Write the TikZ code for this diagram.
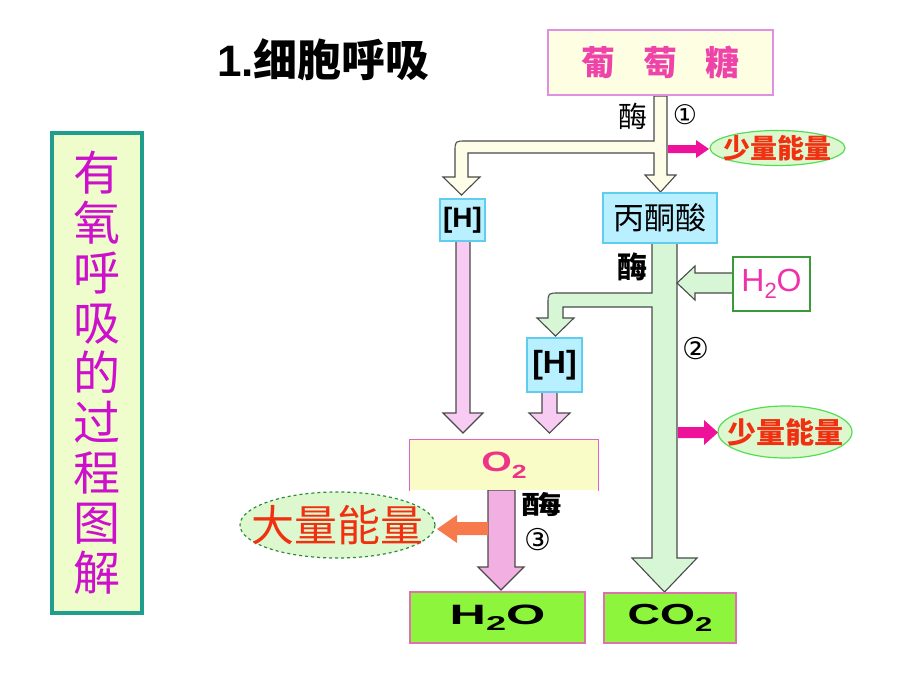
\documentclass[tikz,border=0pt]{standalone}
\usepackage{fontspec}
\setmainfont{Liberation Sans}
\newfontfamily\cjk{Noto Sans CJK SC}
\newfontfamily\symf{DejaVu Sans}
\usetikzlibrary{shapes.geometric}
\definecolor{leftfill}{HTML}{EFFCCB}
\definecolor{leftborder}{HTML}{1F9E8E}
\definecolor{leftText}{HTML}{CC10CC}
\definecolor{gluFill}{HTML}{FEFEE2}
\definecolor{gluBorder}{HTML}{E090E0}
\definecolor{gluText}{HTML}{EE44AA}
\definecolor{cyanFill}{HTML}{B8F0FF}
\definecolor{cyanBorder}{HTML}{60CCEE}
\definecolor{yArrow}{HTML}{FEFDE8}
\definecolor{gArrow}{HTML}{D6F6D6}
\definecolor{pArrow}{HTML}{F8CCF2}
\definecolor{pArrowB}{HTML}{F2B0E2}
\definecolor{magArrow}{HTML}{EE1199}
\definecolor{orArrow}{HTML}{F67A4C}
\definecolor{ellFill}{HTML}{DDF8CF}
\definecolor{ellBorder}{HTML}{55DD55}
\definecolor{ellBigBorder}{HTML}{2E8B3A}
\definecolor{energyText}{HTML}{F03010}
\definecolor{oFill}{HTML}{FAFCC8}
\definecolor{oBorder}{HTML}{E060D0}
\definecolor{oText}{HTML}{EE3388}
\definecolor{botFill}{HTML}{8CF53C}
\definecolor{botBorder}{HTML}{E070B0}
\definecolor{hBorder}{HTML}{3A9A3A}
\definecolor{hText}{HTML}{EE33AA}
\definecolor{outl}{HTML}{4A4A4A}
\tikzset{
  blockarrow/.style={draw=outl, line width=1.1pt, line join=miter},
  flatbox/.style={rectangle, inner sep=0pt, line width=1.4pt},
  energyshape/.style={fill=ellFill, draw=ellBorder, line width=1.2pt},
  labeltxt/.style={inner sep=0pt},
}
\begin{document}
\begin{tikzpicture}[x=1pt,y=-1pt]
\useasboundingbox[fill=white] (0,0) rectangle (920,690);

% ---------- energy ellipses (shapes) ----------
\coordinate (e1c) at (777.5,148);
\coordinate (e2c) at (785,432);
\coordinate (e3c) at (337.5,525);
\draw[energyshape] (e1c) ellipse [x radius=67.5pt, y radius=17.5pt];
\draw[energyshape] (e2c) ellipse [x radius=67pt, y radius=26pt];
\draw[energyshape, draw=ellBigBorder, dashed] (e3c) ellipse [x radius=97.5pt, y radius=33pt];

% ---------- block arrows ----------
% glucose arrow with branch to [H]
\draw[blockarrow, fill=yArrow] (654,96) -- (654,141) -- (466,141) .. controls (455,141) .. (455,152)
  -- (455,177) -- (443,177) -- (461.5,195) -- (480,177) -- (468,177) -- (468,153) -- (654,153)
  -- (654,175) -- (645,175) -- (660.5,192) -- (676,175) -- (667,175) -- (667,96) -- cycle;
% pyruvate arrow with branch to [H]
\draw[blockarrow, fill=gArrow] (652,243) -- (652,293) -- (559,293) .. controls (548,293) .. (548,304)
  -- (548,318) -- (537,318) -- (555.5,336) -- (574,318) -- (563,318) -- (563,307) -- (652,307)
  -- (652,558) -- (632,558) -- (664.5,592) -- (697,558) -- (677,558) -- (677,243) -- cycle;
% H2O in
\draw[blockarrow, fill=gArrow] (733,273) -- (695,273) -- (695,266) -- (677,283) -- (695,300)
  -- (695,293) -- (733,293) -- cycle;
% small energy arrows
\fill[magArrow] (668,145) -- (696,145) -- (696,140) -- (709,149) -- (696,158) -- (696,153) -- (668,153) -- cycle;
\fill[magArrow] (678,427) -- (704,427) -- (704,420) -- (718,432.5) -- (704,445) -- (704,438) -- (678,438) -- cycle;
% [H] -> O2
\draw[blockarrow, fill=pArrow] (456,241) -- (456,413) -- (443,413) -- (463,433) -- (483,413) -- (470,413) -- (470,241) -- cycle;
\draw[blockarrow, fill=pArrow] (542,392) -- (542,413) -- (529,413) -- (549.5,433) -- (570,413) -- (557,413) -- (557,392) -- cycle;
% O2 -> H2O
\draw[blockarrow, fill=pArrowB] (488,490) -- (488,567) -- (478,567) -- (501,590) -- (524,567) -- (515,567) -- (515,490) -- cycle;
% big energy arrow
\fill[orArrow] (488,522) -- (457,522) -- (457,515) -- (437,529) -- (457,543) -- (457,535) -- (488,535) -- cycle;

% ---------- title ----------
\node[labeltxt, anchor=west] (title) at (217,60)
  {\fontsize{44}{48}\selectfont\bfseries 1.{\cjk\bfseries 细胞呼吸}};

% ---------- left vertical box ----------
\node[flatbox, draw=leftborder, line width=3.5pt, fill=leftfill, minimum width=90pt, minimum height=480pt,
  align=center, text=leftText, font=\cjk\fontsize{47}{50}\selectfont] (side) at (97,373)
  {有\\氧\\呼\\吸\\的\\过\\程\\图\\解};

% ---------- boxes ----------
\node[flatbox, draw=gluBorder, fill=gluFill, minimum width=225pt, minimum height=65pt,
  text=gluText, font=\cjk\bfseries\fontsize{34}{36}\selectfont] (glu) at (660.5,62.5)
  {葡\hspace{28pt}萄\hspace{28pt}糖};
\node[flatbox, draw=cyanBorder, fill=cyanFill, minimum width=114pt, minimum height=50pt,
  font=\cjk\fontsize{31}{34}\selectfont] (pyr) at (660,218) {丙酮酸};
\node[flatbox, draw=cyanBorder, fill=cyanFill, minimum width=45pt, minimum height=42pt,
  font=\bfseries\fontsize{28}{30}\selectfont] (h1) at (462.5,220) {[H]};
\node[flatbox, draw=cyanBorder, fill=cyanFill, minimum width=55pt, minimum height=54pt,
  font=\bfseries\fontsize{32}{34}\selectfont] (h2) at (554.5,365) {[H]};
\node[flatbox, draw=hBorder, fill=white, minimum width=77pt, minimum height=54pt,
  text=hText, font=\fontsize{32}{34}\selectfont] (wat) at (771.5,284)
  {H\raisebox{-0.2em}{\fontsize{22}{22}\selectfont 2}O};
% O2 box (bottom edge open)
\node[flatbox, fill=oFill, minimum width=188pt, minimum height=50pt,
  text=oText, font=\bfseries\fontsize{28}{30}\selectfont] (oxy) at (504,465)
  {\scalebox{1.4}[1]{O\raisebox{-0.25em}{\fontsize{19}{19}\selectfont 2}}};
\draw[oBorder, line width=1.4pt] (oxy.south west) -- (oxy.north west) -- (oxy.north east) -- (oxy.south east);
\node[flatbox, draw=botBorder, fill=botFill, minimum width=175pt, minimum height=51pt,
  font=\bfseries\fontsize{28}{30}\selectfont] (wout) at (497.5,617.5)
  {\scalebox{1.8}[1]{H\raisebox{-0.2em}{\fontsize{20}{20}\selectfont 2}O}};
\node[flatbox, draw=botBorder, fill=botFill, minimum width=132pt, minimum height=50pt,
  font=\bfseries\fontsize{29}{30}\selectfont] (co2) at (670,618)
  {\scalebox{1.55}[1]{CO\raisebox{-0.25em}{\fontsize{20}{20}\selectfont 2}}};

% ---------- energy ellipse texts ----------
\node[labeltxt, text=energyText, font=\cjk\bfseries\fontsize{27}{28}\selectfont] (e1) at (e1c) {少量能量};
\node[labeltxt, text=energyText, font=\cjk\bfseries\fontsize{29}{32}\selectfont] (e2) at (e2c) {少量能量};
\node[labeltxt, text=energyText, font=\cjk\fontsize{43}{46}\selectfont] (e3) at (e3c) {大量能量};

% ---------- labels ----------
\node[labeltxt, font=\cjk\fontsize{29}{30}\selectfont] (enz1) at (633,116) {酶};
\node[labeltxt, font=\symf\fontsize{27}{28}\selectfont] (n1) at (685,115) {①};
\node[labeltxt, font=\cjk\bfseries\fontsize{30}{32}\selectfont] (enz2) at (632,267) {酶};
\node[labeltxt, font=\symf\fontsize{30}{30}\selectfont] (n2) at (696,349) {②};
\node[labeltxt, font=\cjk\bfseries\fontsize{28}{30}\selectfont] (enz3) at (542,504.5) {\scalebox{1.45}[0.92]{酶}};
\node[labeltxt, font=\symf\fontsize{30}{30}\selectfont] (n3) at (537.5,540) {③};
\end{tikzpicture}
\end{document}
